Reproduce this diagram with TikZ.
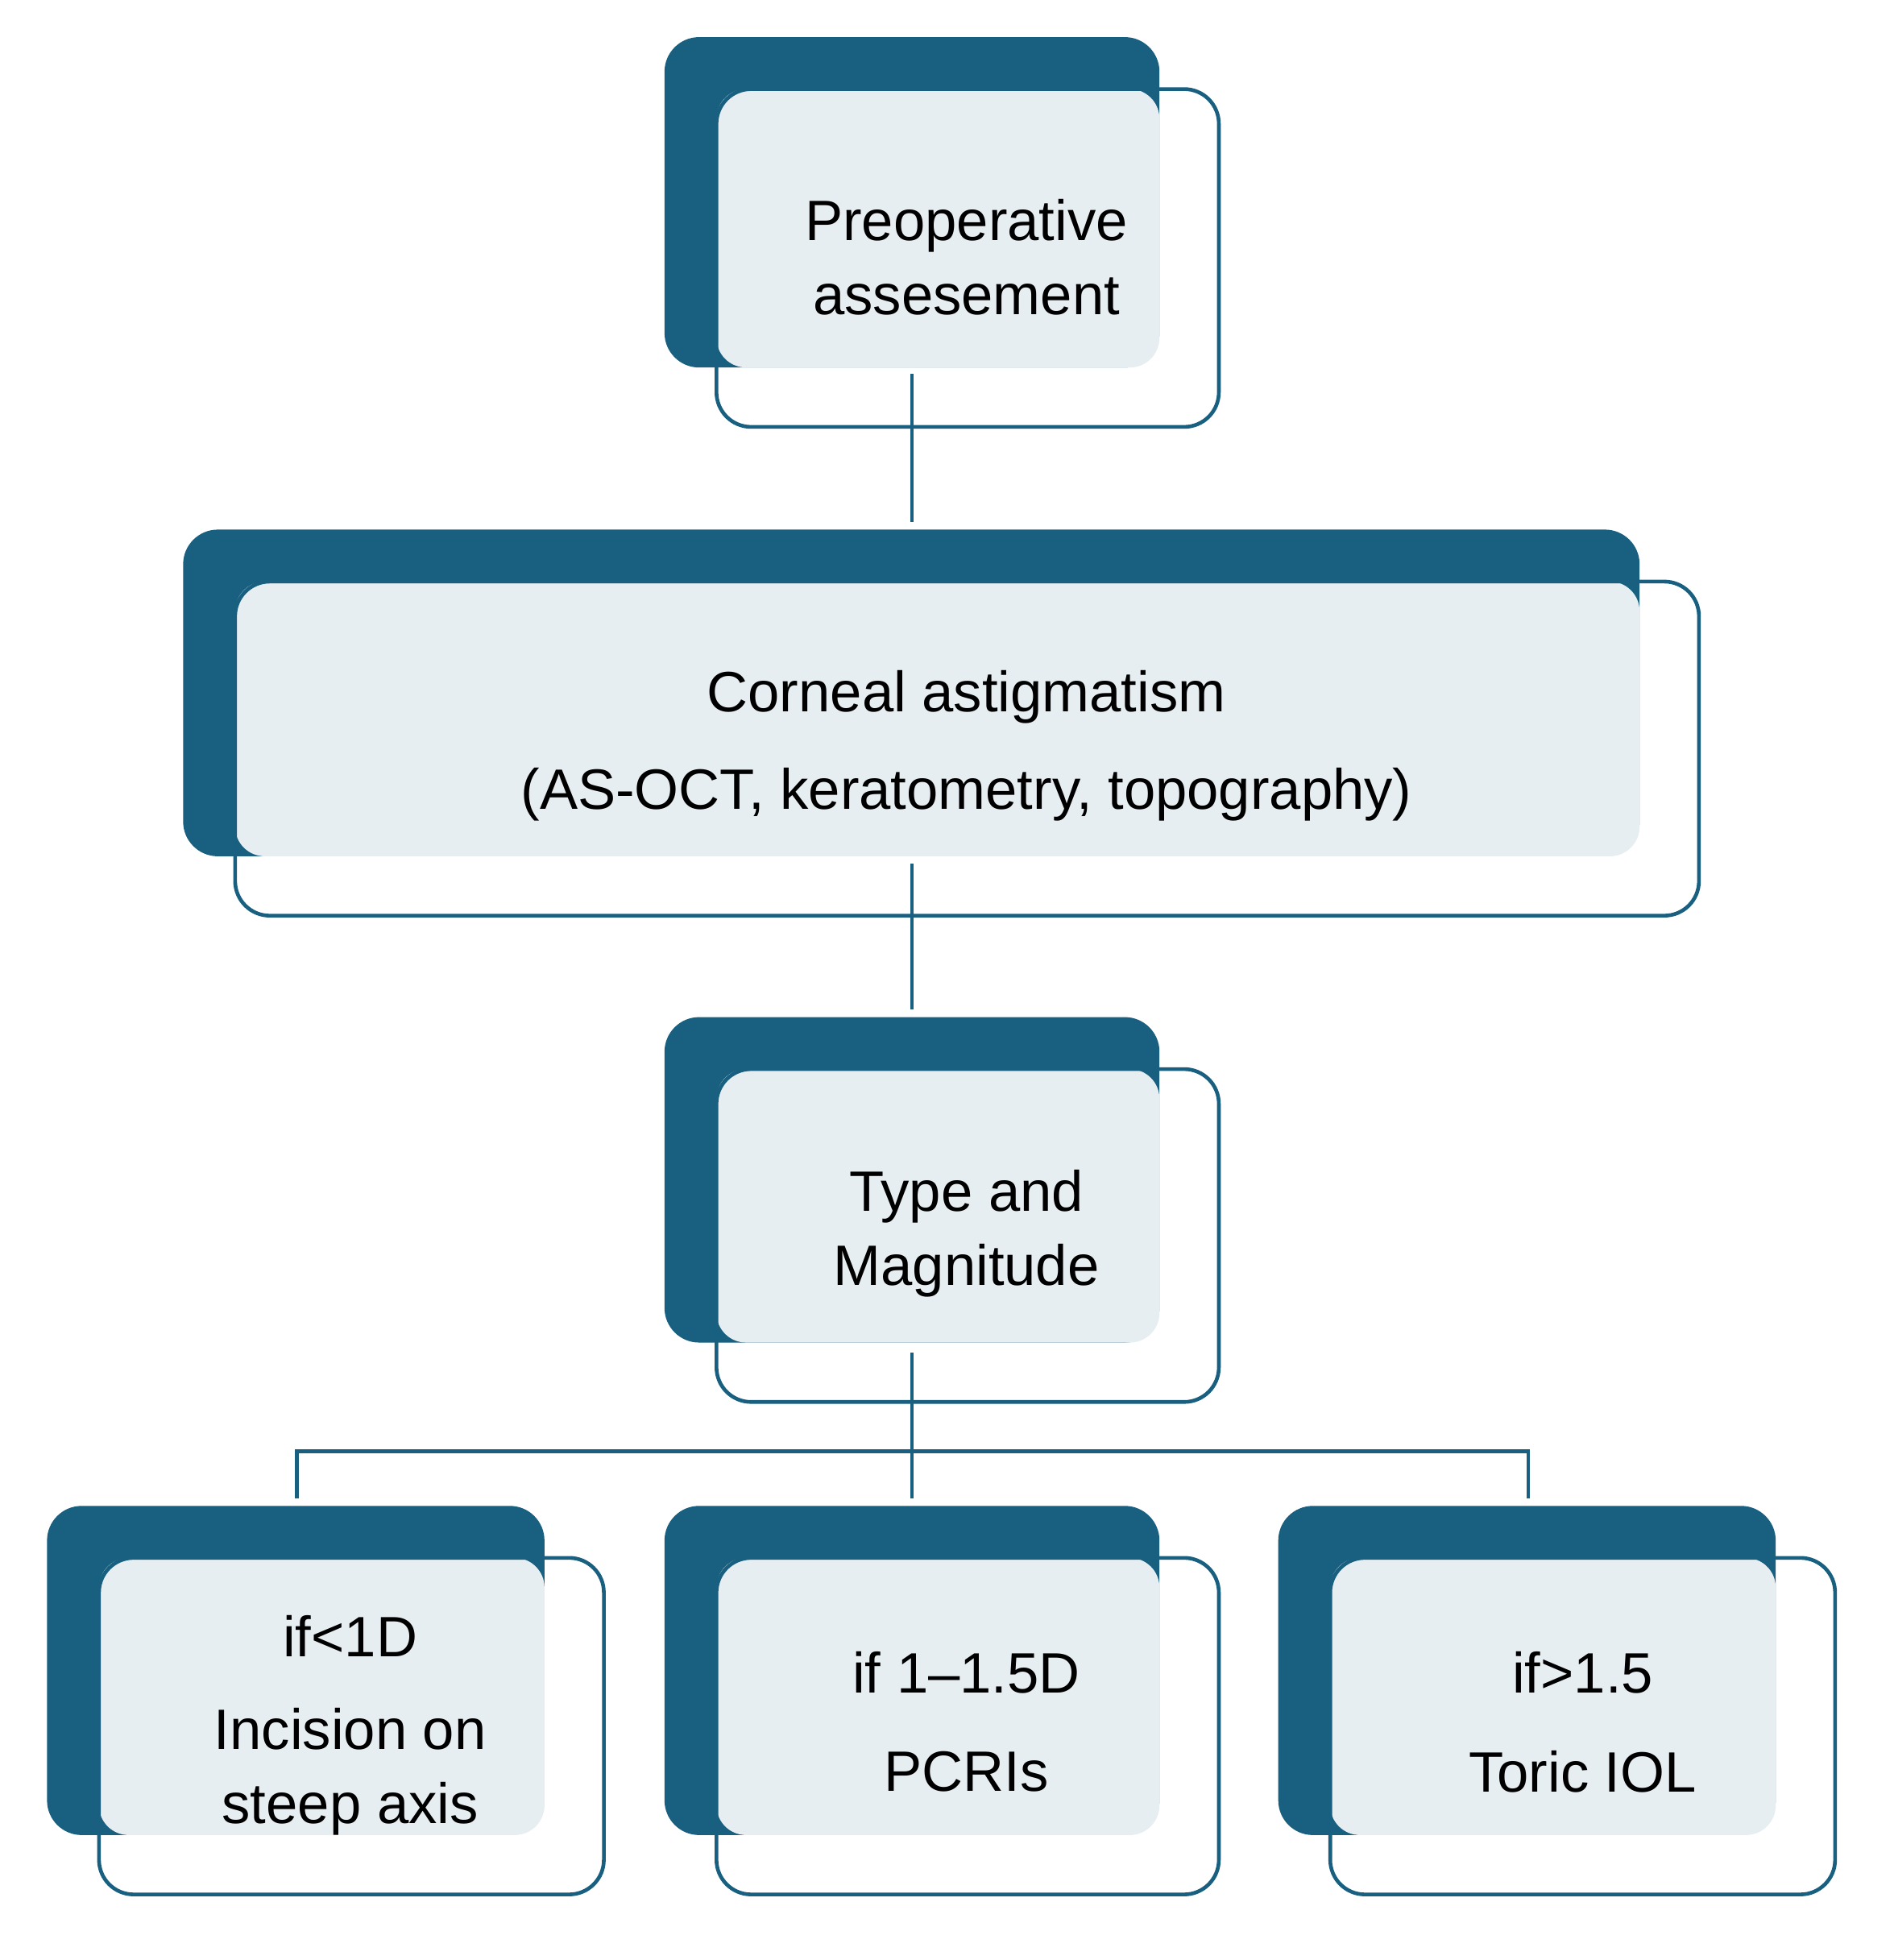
\documentclass[tikz,border=0pt]{standalone}
\usepackage{fontspec}
\setmainfont{Liberation Sans}
\definecolor{dk}{HTML}{185F80}
\definecolor{lt}{HTML}{E7EEF2}
\newcommand\mybox[5]{% name x1 y1 x2 y2 (dark rect)
  \fill[dk,rounded corners=14pt] (#2,#3) rectangle (#4,#5);
  \fill[lt,rounded corners=12pt] (#2+42,#3+42) rectangle (#4,#5);
  \draw[dk,line width=1.5pt,rounded corners=14pt] (#2+42,#3+42) rectangle (#4+48,#5+48);
  \coordinate (#1-top) at (737,#3-6);
}
\tikzset{lbl/.style={font=\fontsize{23}{28}\selectfont,text=black,inner sep=0pt,align=center},
 con/.style={dk,line width=1.5pt}}
\begin{document}
\begin{tikzpicture}[x=0.5pt,y=-0.5pt]
\useasboundingbox[fill=white] (0,0) rectangle (1530,1584);
\mybox{a}{537}{30}{937}{297}
\mybox{b}{148}{428}{1325}{692}
\mybox{c}{537}{822}{937}{1085}
\mybox{d}{38}{1217}{440}{1483}
\mybox{e}{537}{1217}{937}{1483}
\mybox{f}{1033}{1217}{1435}{1483}
\node[lbl] (ta) at (781,208) {Preoperative\\[2pt]assesement};
\node[lbl] (tb1) at (781,563) {Corneal astigmatism};
\node[lbl] (tb2) at (781,642) {(AS-OCT, keratometry, topography)};
\node[lbl] (tc) at (781,997) {Type and\\[2pt]Magnitude};
\node[lbl] (td1) at (283,1322) {if<1D};
\node[lbl] (td2) at (283,1432) {Incision on\\[2pt]steep axis};
\node[lbl] (te1) at (781,1352) {if 1–1.5D};
\node[lbl] (te2) at (781,1432) {PCRIs};
\node[lbl] (tf1) at (1279,1352) {if>1.5};
\node[lbl] (tf2) at (1279,1432) {Toric IOL};
\coordinate (a-bot) at (737,302);
\coordinate (b-bot) at (737,698);
\coordinate (c-bot) at (737,1093);
\coordinate (hl) at (240,1173);
\coordinate (hr) at (1235,1173);
\coordinate (dl) at (240,1211);
\coordinate (fr) at (1235,1211);
\draw[con] (a-bot) -- (b-top);
\draw[con] (b-bot) -- (c-top);
\draw[con] (c-bot) -- (e-top);
\draw[con] (dl) -- (hl) -- (hr) -- (fr);
\end{tikzpicture}
\end{document}
